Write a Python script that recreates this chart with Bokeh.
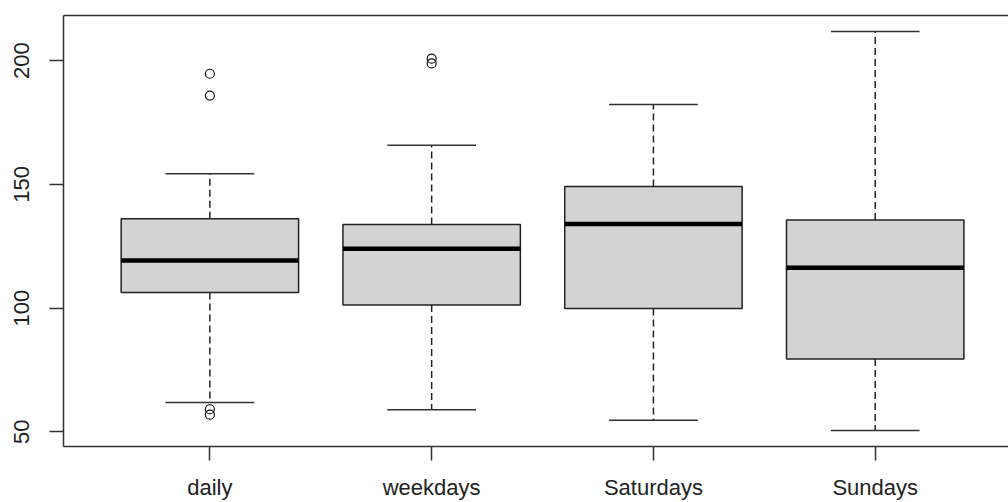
from bokeh.plotting import figure
from bokeh.models import FixedTicker, Range1d, ColumnDataSource, LinearAxis
from bokeh.embed import file_html
from bokeh.resources import INLINE

# ---- data (box statistics) ----
categories = ["daily", "weekdays", "Saturdays", "Sundays"]
lower_whisker = [61.8, 58.9, 54.7, 50.5]
q1 = [106.3, 101.2, 99.8, 79.4]
median = [119.2, 124.0, 134.0, 116.3]
q3 = [136.1, 133.8, 149.1, 135.6]
upper_whisker = [154.3, 165.8, 182.3, 211.8]
outlier_group = ["daily", "daily", "daily", "daily", "weekdays", "weekdays"]
outlier_value = [194.7, 185.9, 59.1, 56.9, 200.8, 198.9]
y_ticks = [50, 100, 150, 200]

xpos = [i + 1 for i in range(len(categories))]
boxwex = 0.8
capwex = 0.4

src = ColumnDataSource(dict(
    x=xpos, lw=lower_whisker, q1=q1, med=median, q3=q3, uw=upper_whisker,
    left=[x - boxwex / 2 for x in xpos], right=[x + boxwex / 2 for x in xpos],
    cl=[x - capwex / 2 for x in xpos], cr=[x + capwex / 2 for x in xpos],
))
out_src = ColumnDataSource(dict(
    x=[categories.index(g) + 1 for g in outlier_group], y=outlier_value))

p = figure(width=1008, height=502, output_backend="svg", toolbar_location=None,
           x_range=Range1d(0.34, 4.601), y_range=Range1d(44.05, 218.25),
           min_border_left=63, min_border_right=0, min_border_top=15,
           min_border_bottom=54)
p.background_fill_color = "white"
p.border_fill_color = "white"
p.outline_line_color = None
p.xgrid.visible = False
p.ygrid.visible = False

# whiskers (dashed)
p.segment(x0="x", y0="q3", x1="x", y1="uw", source=src, line_color="#222222",
          line_width=1.5, line_dash="7 4")
p.segment(x0="x", y0="q1", x1="x", y1="lw", source=src, line_color="#222222",
          line_width=1.5, line_dash="7 4")
# caps
p.segment(x0="cl", y0="uw", x1="cr", y1="uw", source=src, line_color="#333333", line_width=1.5)
p.segment(x0="cl", y0="lw", x1="cr", y1="lw", source=src, line_color="#333333", line_width=1.5)
# boxes
p.vbar(x="x", width=boxwex, bottom="q1", top="q3", source=src,
       fill_color="#D3D3D3", line_color="#222222", line_width=1.5)
# medians
p.segment(x0="left", y0="med", x1="right", y1="med", source=src,
          line_color="black", line_width=4.5)
# outliers
p.scatter(x="x", y="y", source=out_src, marker="circle", size=9,
          fill_color=None, line_color="#111111", line_width=1.2)

for ax in (p.xaxis[0], p.yaxis[0]):
    ax.axis_line_color = "#333333"
    ax.axis_line_width = 1.5
    ax.major_tick_out = 14
    ax.major_tick_in = 0
    ax.minor_tick_line_color = None
    ax.major_tick_line_color = "#333333"
    ax.major_tick_line_width = 1.5
    ax.major_label_text_font = "Liberation Sans"
    ax.major_label_text_font_size = "22px"
    ax.major_label_text_color = "#222222"

p.xaxis.ticker = FixedTicker(ticks=xpos)
p.xaxis.major_label_overrides = {x: c for x, c in zip(xpos, categories)}
p.xaxis.major_label_standoff = 14

p.yaxis.ticker = FixedTicker(ticks=y_ticks)
p.yaxis.major_label_orientation = "vertical"
p.yaxis.major_label_standoff = 20

# top border of the plot box (the right side is cut off in the reference)
top = LinearAxis(ticker=FixedTicker(ticks=[]), axis_line_color="#333333",
                 axis_line_width=1.5, major_tick_line_color=None,
                 minor_tick_line_color=None, major_label_text_font_size="0px",
                 major_label_standoff=0)
p.add_layout(top, "above")

open("out.html", "w").write(file_html(p, INLINE))
